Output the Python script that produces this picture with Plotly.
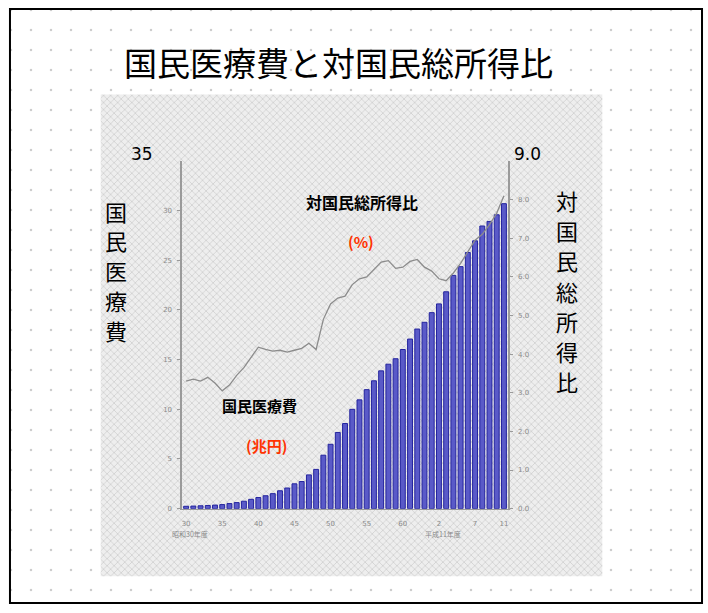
import plotly.graph_objects as go

# ---------------- data ----------------
years = list(range(1955, 2000))
cost_trillion_yen = [0.24, 0.26, 0.29, 0.32, 0.36, 0.41, 0.51, 0.61, 0.75, 0.94,
                     1.12, 1.30, 1.51, 1.80, 2.08, 2.50, 2.73, 3.40, 3.95, 5.38,
                     6.48, 7.67, 8.57, 10.00, 10.95, 11.98, 12.87, 13.87, 14.54, 15.09,
                     16.02, 17.07, 18.08, 18.76, 19.73, 20.61, 21.83, 23.48, 24.36, 25.79,
                     26.96, 28.45, 28.91, 29.58, 30.70]
ratio_pct = [3.30, 3.35, 3.30, 3.40, 3.25, 3.05, 3.20, 3.45, 3.65, 3.90,
             4.18, 4.12, 4.08, 4.10, 4.05, 4.10, 4.15, 4.28, 4.12, 4.90,
             5.30, 5.45, 5.50, 5.80, 5.95, 6.00, 6.20, 6.38, 6.42, 6.22,
             6.25, 6.40, 6.45, 6.25, 6.15, 5.95, 5.90, 6.10, 6.35, 6.65,
             6.95, 7.10, 7.35, 7.65, 8.10]
xtick_vals = [1955, 1960, 1965, 1970, 1975, 1980, 1985, 1990, 1995, 1999]
xtick_text = ["30", "35", "40", "45", "50", "55", "60", "2", "7", "11"]
left_ticks = [0, 5, 10, 15, 20, 25, 30]
right_ticks = [0, 1, 2, 3, 4, 5, 6, 7, 8]
left_title = "国民医療費"
right_title = "対国民総所得比"

W, H = 708, 613
def px(x):
    return x / W
def py(y):
    return 1 - y / H

JP = "Noto Sans CJK JP"
fig = go.Figure()

# background decoration (pixel coordinate axes)
fig.add_trace(go.Scatter(x=[0, W, W, 0, 0], y=[0, 0, H, H, 0], mode="lines",
                         fill="toself", line=dict(width=0),
                         fillpattern=dict(shape=".", size=20, solidity=0.012,
                                          fgcolor="#9a9a9a", bgcolor="white"),
                         xaxis="x", yaxis="y", hoverinfo="skip", showlegend=False))
fig.add_trace(go.Scatter(x=[100, 603, 603, 100, 100], y=[95, 95, 580, 580, 95], mode="lines",
                         fill="toself", line=dict(width=0),
                         fillpattern=dict(shape="x", size=5, solidity=0.3,
                                          fgcolor="#b4b4b4", bgcolor="#eeeeee"),
                         xaxis="x", yaxis="y", hoverinfo="skip", showlegend=False))

# bars: medical cost
fig.add_trace(go.Bar(x=years, y=cost_trillion_yen, xaxis="x2", yaxis="y2",
                     marker=dict(color="#5a5ac8", line=dict(color="#24249e", width=1)),
                     showlegend=False))
# line: ratio
fig.add_trace(go.Scatter(x=years, y=ratio_pct, xaxis="x2", yaxis="y3", mode="lines",
                         line=dict(color="#8c8c8c", width=1.3), showlegend=False))

tickfont = dict(family="DejaVu Sans", size=7, color="#8a8a8a")
fig.update_layout(
    width=W, height=H, margin=dict(l=0, r=0, t=0, b=0),
    paper_bgcolor="white", plot_bgcolor="rgba(0,0,0,0)",
    bargap=0.32,
    xaxis=dict(domain=[0, 1], range=[0, W], visible=False, fixedrange=True),
    yaxis=dict(domain=[0, 1], range=[H, 0], visible=False, fixedrange=True),
    xaxis2=dict(domain=[px(182), px(508)], anchor="y2", range=[1954.5, 1999.5],
                tickvals=xtick_vals, ticktext=xtick_text, tickfont=tickfont,
                showline=True, linecolor="#9a9a9a", linewidth=1, ticks="",
                showgrid=False, zeroline=False, ticklabelstandoff=8),
    yaxis2=dict(domain=[py(512), py(162)], anchor="x2", range=[0, 35],
                tickvals=left_ticks, tickfont=tickfont, showline=True,
                linecolor="#9a9a9a", linewidth=2, ticks="outside", ticklen=3,
                tickcolor="#9a9a9a", showgrid=False, zeroline=False,
                ticklabelstandoff=4),
    yaxis3=dict(overlaying="y2", side="right", anchor="x2", range=[0, 9],
                tickvals=right_ticks, tickformat=".1f", tickfont=tickfont,
                showline=True, linecolor="#9a9a9a", linewidth=2, ticks="outside",
                ticklen=3, tickcolor="#9a9a9a", showgrid=False, zeroline=False,
                ticklabelstandoff=4),
)

ann = []
def add_text(x, y, text, size, color="black", family=JP):
    ann.append(dict(x=px(x), y=py(y), xref="paper", yref="paper", text=text,
                    showarrow=False, font=dict(family=family, size=size, color=color),
                    xanchor="center", yanchor="middle"))

add_text(338, 62, "国民医療費と対国民総所得比", 33)
for i, ch in enumerate(left_title):
    add_text(115, 212 + i * 30, ch, 22)
for i, ch in enumerate(right_title):
    add_text(568, 201 + i * 30.5, ch, 22)
add_text(141, 155, "35", 17, family="DejaVu Sans")
add_text(528, 155, "9.0", 17, family="DejaVu Sans")
add_text(362, 203, "<b>対国民総所得比</b>", 16)
add_text(361, 243, "<b>(%)</b>", 15, color="#ff3300")
add_text(259, 408, "<b>国民医療費</b>", 15)
add_text(266, 448, "<b>(兆円)</b>", 15, color="#ff3300")
add_text(190, 538, "昭和30年度", 7, color="#8a8a8a")
add_text(443, 538, "平成11年度", 7, color="#8a8a8a")
fig.update_layout(annotations=ann)

fig.add_shape(type="rect", xref="paper", yref="paper", x0=px(9), x1=px(703),
              y0=py(607), y1=py(9), line=dict(color="black", width=2))

fig.write_html("out.html")
